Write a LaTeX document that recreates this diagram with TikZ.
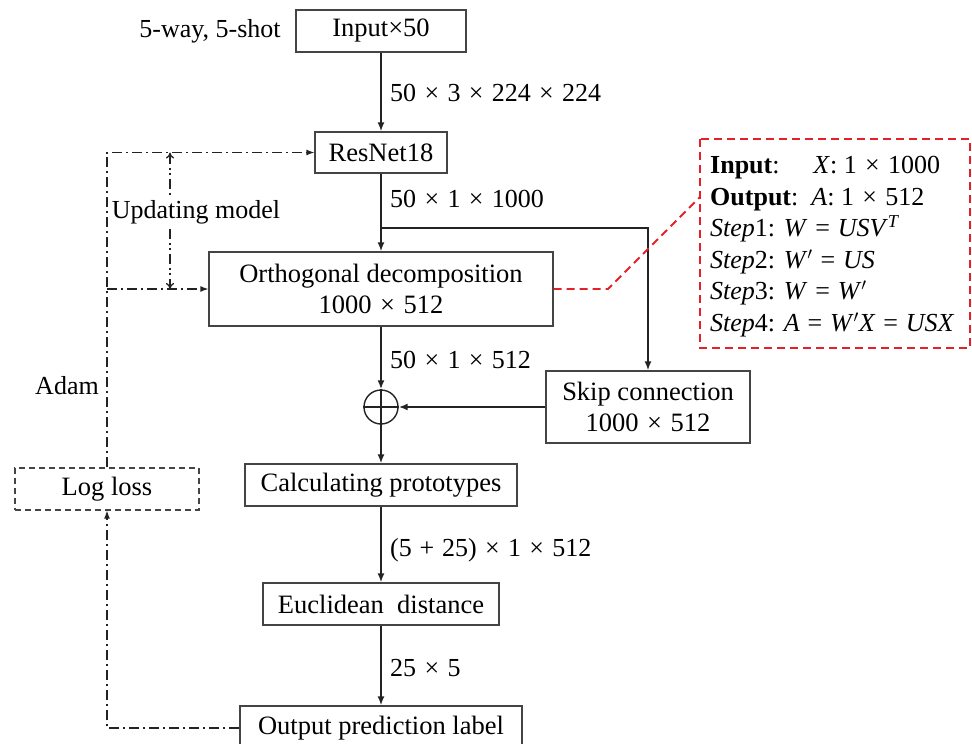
\documentclass[tikz,border=0pt]{standalone}
\usepackage{fontspec}
\setmainfont{Liberation Serif}
\usetikzlibrary{arrows.meta,calc}
\definecolor{redd}{RGB}{228,32,40}
\definecolor{ink}{RGB}{35,35,35}
\newcommand{\mx}{\hspace{0.32em}×\hspace{0.32em}}
\newcommand{\meq}{\hspace{0.3em}=\hspace{0.3em}}
\newcommand{\mpl}{\hspace{0.3em}+\hspace{0.3em}}
\begin{document}
\begin{tikzpicture}[x=1pt,y=-1pt,
  box/.style={draw=ink!85,line width=1.2pt,fill=white,inner sep=0pt,align=center,font=\fontsize{26.5}{31}\selectfont},
  flow/.style={draw=ink,line width=1.8pt,-{Latex[length=9pt,width=7pt]}},
  lbl/.style={font=\fontsize{26}{30}\selectfont,anchor=west,inner sep=0pt},
  txt/.style={font=\fontsize{26}{30}\selectfont,inner sep=0pt},
  fb/.style={draw=ink,line width=1.3pt,dash pattern=on 10pt off 4pt on 2pt off 4pt},
  fbb/.style={draw=ink,line width=1.3pt,dash pattern=on 10pt off 4pt on 2pt off 3pt on 2pt off 4pt},
 ]
\useasboundingbox (0,0) rectangle (972,744);
% main boxes
\node[box,minimum width=170pt,minimum height=42pt] (in) at (381,31) {Input×50};
\node[txt] (way) at (210,31) {5-way, 5-shot};
\node[box,minimum width=132pt,minimum height=41pt] (res) at (381,152.5) {ResNet18};
\node[box,minimum width=344pt,minimum height=74pt] (orth) at (381,289) {Orthogonal decomposition\\1000\mx512};
\node[box,minimum width=204pt,minimum height=72pt] (skip) at (648,407) {Skip connection\\1000\mx512};
\node[draw=ink,line width=1.4pt,circle,minimum size=34pt,inner sep=0pt] (plus) at (381,407) {};
\draw[ink,line width=1.4pt] (plus.north) -- (plus.south) (plus.west) -- (plus.east);
\node[box,minimum width=272pt,minimum height=42pt] (calc) at (381,485) {Calculating prototypes};
\node[box,minimum width=236pt,minimum height=42pt] (eucl) at (381,604) {Euclidean\ \ distance};
\node[box,minimum width=282pt,minimum height=44pt] (out) at (381,728) {Output prediction label};
\node[box,dashed,dash pattern=on 6pt off 4pt,minimum width=184pt,minimum height=42pt] (loss) at (107,489) {Log loss};
% main flow
\draw[flow] (in.south) -- (res.north);
\draw[flow] (res.south) -- (orth.north);
\coordinate (br) at (381,228);
\draw[flow] (br) -| (skip.north);
\draw[flow] (orth.south) -- (plus.north);
\draw[flow] (skip.west) -- (plus.east);
\draw[flow] (plus.south) -- (calc.north);
\draw[flow] (calc.south) -- (eucl.north);
\draw[flow] (eucl.south) -- (out.north);
% labels
\node[lbl] (l1) at (390,93) {50\mx3\mx224\mx224};
\node[lbl] (l2) at (390,199) {50\mx1\mx1000};
\node[lbl] (l3) at (390,360) {50\mx1\mx512};
\node[lbl] (l4) at (390,550) {(5\mpl25)\mx1\mx512};
\node[lbl] (l5) at (390,668) {25\mx5};
% feedback
\coordinate (fo) at (107,289);
\draw[fb,-{Latex[length=8pt,width=6pt]}] (out.west) -| (loss.south);
\draw[fb,-{Latex[length=8pt,width=6pt]}] (loss.north) |- (res.west);
\draw[fb,-{Latex[length=8pt,width=6pt]}] (fo) -- (orth.west);
\node[txt] (adam) at (67,386) {Adam};
\coordinate (u1) at (170,152.5);
\coordinate (u2) at (170,289);
\draw[fbb,{To[length=6pt,width=8pt]}-{To[length=6pt,width=8pt]}] (u1) -- (u2);
\node[txt,fill=white,inner sep=2pt] (upd) at (196,212) {Updating model};
% red detail box
\draw[redd,line width=1.8pt,dash pattern=on 8pt off 5pt] (700,139) rectangle (970,348);
\coordinate (rb) at (700,197);
\coordinate (rk) at (608,289);
\draw[redd,line width=1.8pt,dash pattern=on 8pt off 5pt] (orth.east) -- (rk) -- (rb);
\node[font=\fontsize{26}{31.6}\selectfont,align=left,anchor=north west,inner sep=0pt] (det) at (710,156) {%
\textbf{Input}:\hspace{1.3em}\textit{X}: 1\mx1000\\
\textbf{Output}:\ \ \textit{A}: 1\mx512\\
\textit{Step}1: \textit{W}\meq\textit{USV}\textsuperscript{\textit{T}}\\
\textit{Step}2: \textit{W}$'$\meq\textit{US}\\
\textit{Step}3: \textit{W}\meq\textit{W}$'$\\
\textit{Step}4: \textit{A}\meq\textit{W}$'$\textit{X}\meq\textit{USX}};
\end{tikzpicture}
\end{document}
